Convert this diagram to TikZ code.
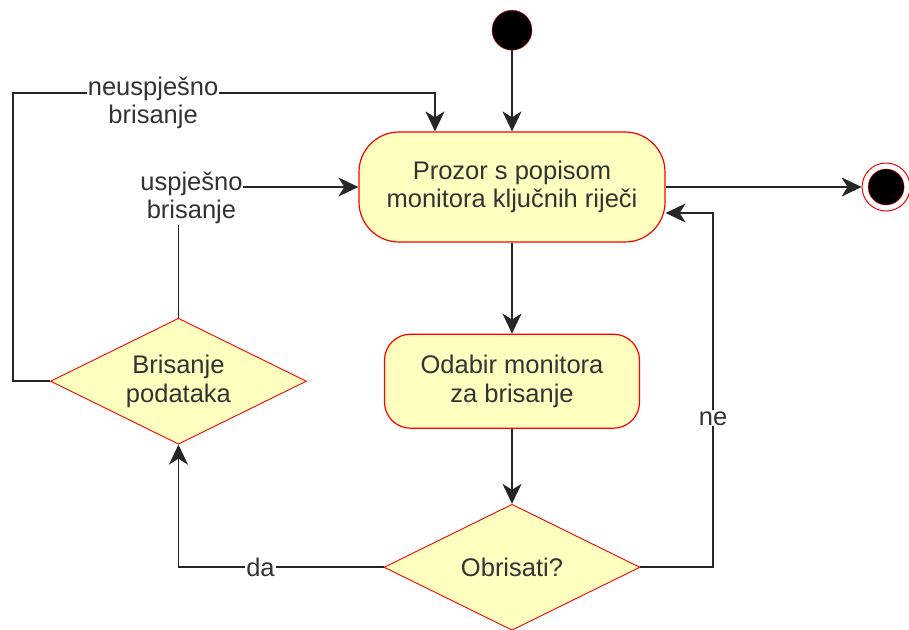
\documentclass[tikz,border=0pt]{standalone}
\usepackage{fontspec}
\setmainfont{Liberation Sans}
\usepackage{tikz}
\usetikzlibrary{arrows.meta}
\usetikzlibrary{positioning}
\usetikzlibrary{shapes.geometric}
\definecolor{umlyellow}{RGB}{255, 255, 192}
\definecolor{umlred}{RGB}{255, 0, 0}
\definecolor{inkgray}{RGB}{51, 51, 51}
\tikzset{
  txt/.style={text=inkgray, align=center, font=\fontsize{25.5}{28.5}\selectfont},
  activity/.style={txt, rectangle, draw=umlred, fill=umlyellow, line width=1.2pt},
  decision/.style={txt, diamond, shape aspect=2, draw=umlred, fill=umlyellow, line width=0.9pt, inner sep=0pt,
                   minimum width=256pt, minimum height=126pt},
  flow/.style={draw=black!85, line width=1.6pt, -{Stealth[length=20pt, width=19pt, inset=6pt]}},
  flowlabel/.style={txt, fill=white, inner sep=1pt},
}
\begin{document}
\begin{tikzpicture}[x=1pt, y=-1pt]
            \useasboundingbox (0,0) rectangle (909,629);
            \node[activity, rounded corners=40pt, minimum width=306pt, minimum height=110pt] (prozor) at (512,187)
                 {Prozor s popisom\\monitora ključnih riječi};
            \node[circle, draw=umlred, fill=black, inner sep=0pt, minimum size=40pt, above=81pt of prozor] (start) {};
            \node[activity, rounded corners=26pt, minimum width=255pt, minimum height=94pt, below=91pt of prozor] (odabir)
                 {Odabir monitora\\za brisanje};
            \node[decision, below=75pt of odabir] (obrisati) {Obrisati?};
            \node[decision, left=77pt of odabir] (brisanje) {Brisanje\\podataka};
            \node[circle, draw=umlred, fill=white, line width=1pt, inner sep=0pt, minimum size=48pt, right=196pt of prozor] (stop) {};
            \node[circle, draw=umlred, fill=black, inner sep=0pt, minimum size=36pt] (stopdot) at (stop) {};
            \coordinate (retour) at (713,213);
            \coordinate (okolo) at (13,93);
            \draw[flow] (start) -- (prozor);
            \draw[flow] (prozor) -- (stop);
            \draw[flow] (prozor) -- (odabir);
            \draw[flow] (odabir) -- (obrisati);
            \draw[flow] (obrisati.west) -| node[flowlabel, pos=0.3] {da} (brisanje.south);
            \draw[flow] (obrisati.east) -| node[flowlabel, pos=0.71] {ne} (retour) -- (retour -| prozor.east);
            \draw[flow] (brisanje.north) |- node[flowlabel, pos=0.5, xshift=13pt, yshift=-11pt] {uspješno\\brisanje} (prozor.west);
            \draw[flow] (brisanje.west) -| (okolo) -| node[flowlabel, pos=0.166, yshift=-10pt] {neuspješno\\brisanje}
                 ([xshift=-77pt]prozor.north);
        \end{tikzpicture}
\end{document}
